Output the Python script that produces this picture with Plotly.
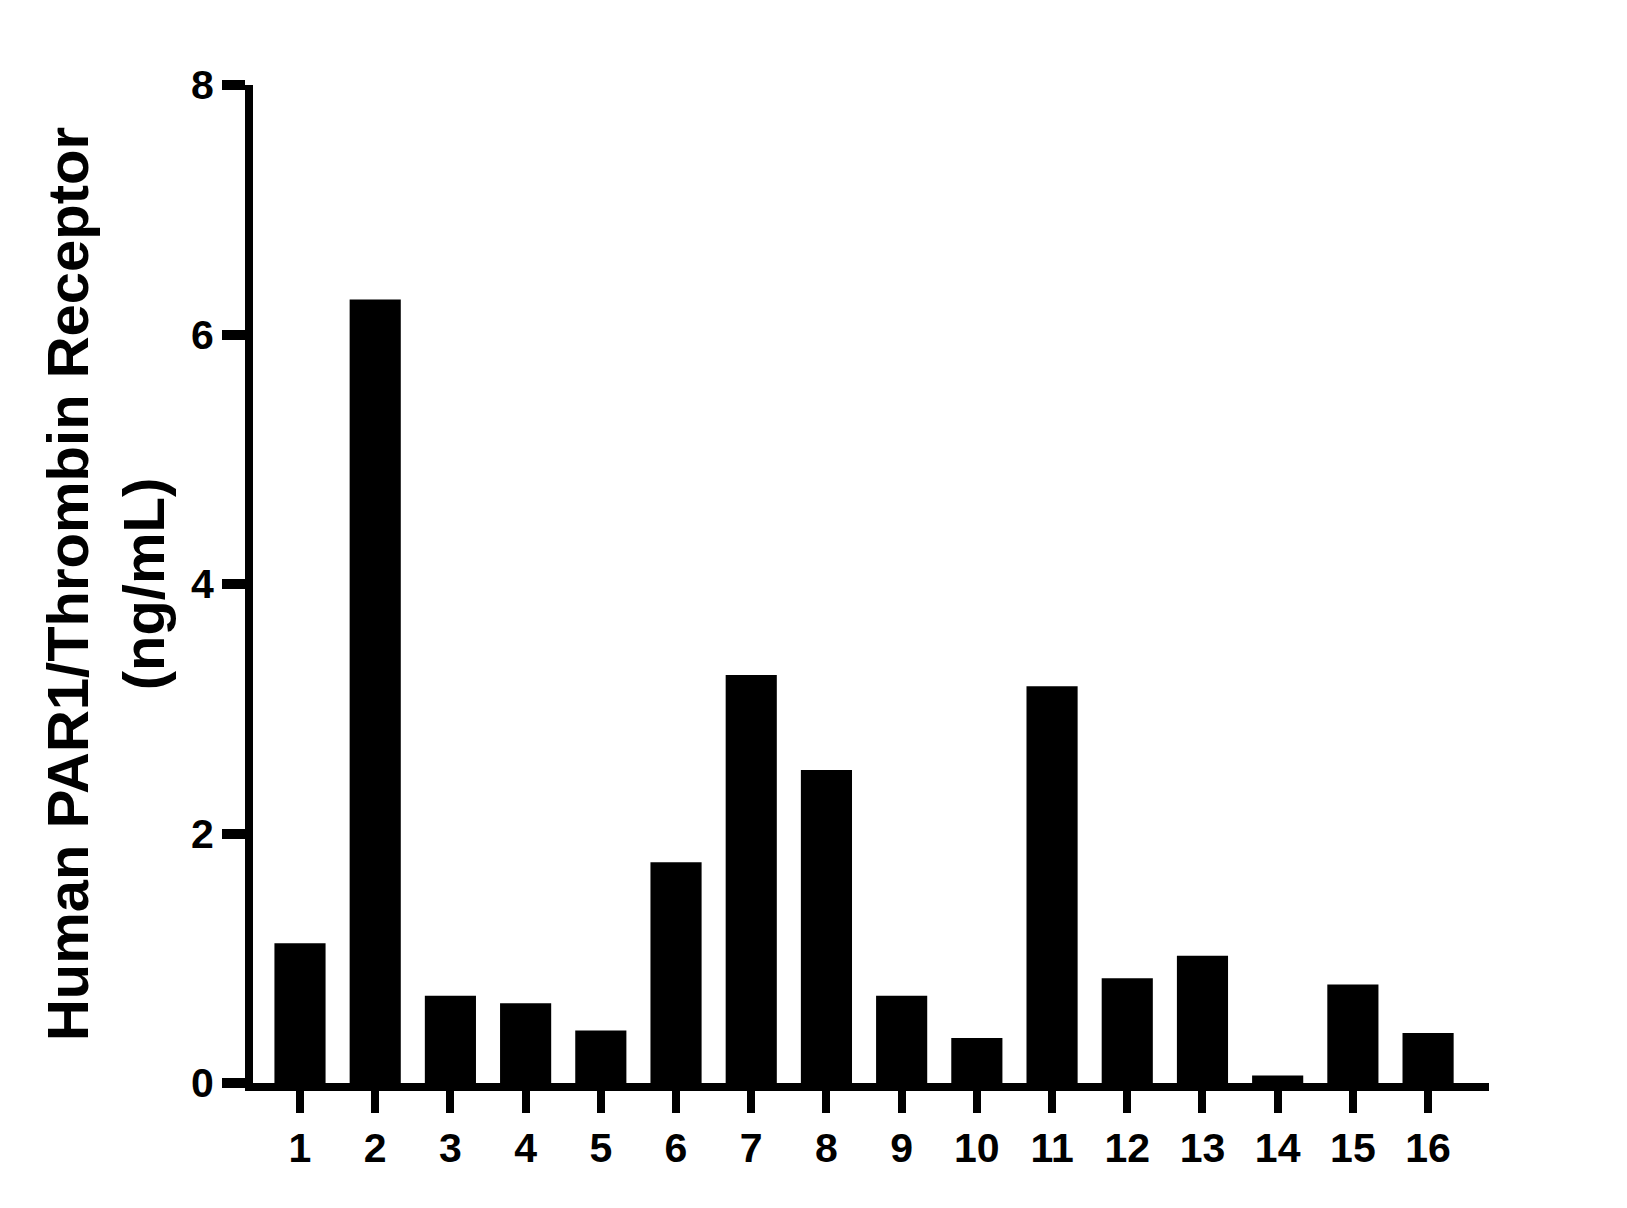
import plotly.graph_objects as go

samples = [str(i) for i in range(1, 17)]
positions = list(range(1, 17))
conc = [1.12, 6.28, 0.70, 0.64, 0.42, 1.77, 3.27, 2.51,
        0.70, 0.36, 3.18, 0.84, 1.02, 0.06, 0.79, 0.40]
y_ticks = [0, 2, 4, 6, 8]

font_family = "Liberation Sans, Arial, sans-serif"

fig = go.Figure(go.Bar(
    x=positions,
    y=conc,
    width=0.68,
    marker_color="black",
    marker_line_width=0,
))

# the page body has an 8px margin, so the figure is a bit smaller than the window
fig.update_layout(
    width=1611,
    height=1192,
    paper_bgcolor="white",
    plot_bgcolor="white",
    margin=dict(l=245, r=130, t=77, b=117),
    showlegend=False,
    font=dict(family=font_family, color="black"),
)

fig.update_xaxes(
    range=[0.375, 16.81],
    tickmode="array",
    tickvals=positions,
    ticktext=samples,
    ticks="outside",
    ticklen=22,
    tickwidth=8,
    tickcolor="black",
    showline=True,
    linewidth=8,
    linecolor="black",
    showgrid=False,
    zeroline=False,
    tickfont=dict(size=41, weight="bold"),
)

fig.update_yaxes(
    range=[0, 8],
    tickmode="array",
    tickvals=y_ticks,
    ticks="outside",
    ticklen=23,
    tickwidth=10,
    tickcolor="black",
    showline=True,
    linewidth=8,
    linecolor="black",
    showgrid=False,
    zeroline=False,
    tickfont=dict(size=41, weight="bold"),
    title=dict(
        text="Human PAR1/Thrombin Receptor<br>(ng/mL)",
        font=dict(size=58, weight="bold"),
        standoff=11,
    ),
)

fig.write_html("out.html")
